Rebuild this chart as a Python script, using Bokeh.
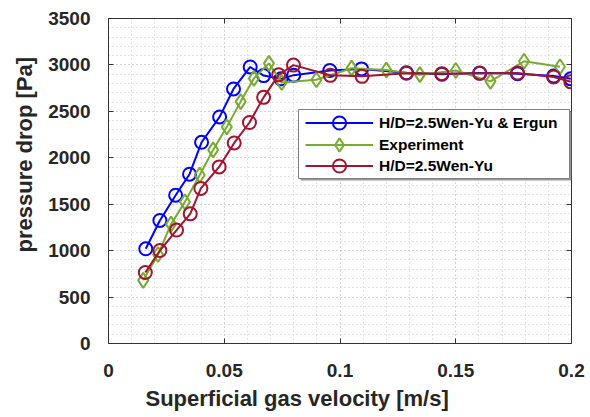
from bokeh.plotting import figure
from bokeh.models import (Range1d, LinearAxis, Legend, LegendItem, Title, Grid,
                          SingleIntervalTicker, BoxAnnotation)
from bokeh.embed import file_html
from bokeh.resources import INLINE

# ---- data ----
blue_x = [0.0161, 0.0222, 0.0290, 0.0350, 0.0402, 0.0480, 0.0540, 0.0612, 0.0670, 0.0745,
          0.0800, 0.0956, 0.1093, 0.1287, 0.1440, 0.1603, 0.1767, 0.1923, 0.1997]
blue_y = [1020, 1325, 1597, 1823, 2167, 2440, 2741, 2978, 2885, 2850,
          2890, 2940, 2957, 2915, 2900, 2912, 2905, 2880, 2850]

green_x = [0.0150, 0.0214, 0.0270, 0.0330, 0.0394, 0.0452, 0.0511, 0.0571, 0.0628, 0.0693,
           0.0748, 0.0898, 0.1050, 0.1200, 0.1345, 0.1500, 0.1650, 0.1795, 0.1950]
green_y = [680, 958, 1285, 1525, 1815, 2085, 2333, 2605, 2855, 3017,
           2812, 2840, 2965, 2945, 2895, 2940, 2823, 3039, 2980]

red_x = [0.0159, 0.0222, 0.0294, 0.0353, 0.0399, 0.0478, 0.0543, 0.0609, 0.0670, 0.0735,
         0.0799, 0.0958, 0.1095, 0.1287, 0.1440, 0.1604, 0.1767, 0.1923, 0.1997]
red_y = [765, 1001, 1222, 1396, 1670, 1902, 2160, 2380, 2651, 2893,
         2998, 2888, 2877, 2911, 2906, 2911, 2913, 2870, 2818]

labels = ["H/D=2.5Wen-Yu & Ergun", "Experiment", "H/D=2.5Wen-Yu"]
x_title = "Superficial gas velocity [m/s]"
y_title = "pressure drop [Pa]"

FONT = "Liberation Sans"
TXT = "#262626"
C_BLUE, C_GREEN, C_RED = "#0000FF", "#77AC30", "#A2142F"

p = figure(frame_width=463, frame_height=325,
           min_border_left=107, min_border_right=19, min_border_top=18, min_border_bottom=70,
           x_range=Range1d(0, 0.2), y_range=Range1d(0, 3500),
           output_backend="svg", toolbar_location=None,
           x_axis_type=None, y_axis_type=None)
p.background_fill_color = "white"
p.border_fill_color = "white"
p.outline_line_color = "#333333"
p.outline_line_width = 1

xt = SingleIntervalTicker(interval=0.05, num_minor_ticks=5)
yt = SingleIntervalTicker(interval=500, num_minor_ticks=5)

def style_axis(ax, show_labels, standoff):
    ax.axis_line_color = "#333333"
    ax.major_tick_line_color = "#333333"
    ax.major_tick_in = 5
    ax.major_tick_out = 0
    ax.minor_tick_line_color = None
    ax.major_label_text_font = FONT
    ax.major_label_text_font_style = "bold"
    if show_labels:
        ax.major_label_text_font_size = "19px"
        ax.major_label_text_color = TXT
        ax.major_label_standoff = standoff
    else:
        ax.major_label_text_font_size = "0px"
        ax.major_label_text_color = None
        ax.major_label_standoff = 0

xb = LinearAxis(ticker=xt)
style_axis(xb, True, 16)
xb.major_label_overrides = {0: "0", 0.05: "0.05", 0.1: "0.1", 0.15: "0.15", 0.2: "0.2"}
p.add_layout(xb, "below")
yl = LinearAxis(ticker=yt)
style_axis(yl, True, 14)
p.add_layout(yl, "left")
xa = LinearAxis(ticker=xt)
style_axis(xa, False, 0)
p.add_layout(xa, "above")
yr = LinearAxis(ticker=yt)
style_axis(yr, False, 0)
p.add_layout(yr, "right")

for dim, tk in ((0, xt), (1, yt)):
    g = Grid(dimension=dim, ticker=tk)
    g.grid_line_color = "#c8c8c8"
    g.grid_line_dash = "1 3"
    g.minor_grid_line_color = "#c8c8c8"
    g.minor_grid_line_dash = "1 3"
    p.add_layout(g)

def series(xs, ys, color, marker, size):
    l = p.line(xs, ys, line_color=color, line_width=2)
    s = p.scatter(xs, ys, marker=marker, size=size, line_color=color, line_width=2,
                  fill_color=None)
    return [l, s]

rb = series(blue_x, blue_y, C_BLUE, "circle", 13)
rg = series(green_x, green_y, C_GREEN, "diamond", 15)
rr = series(red_x, red_y, C_RED, "circle", 13)

# legend frame (with a small shadow), frame-relative screen units
shadow = BoxAnnotation(left=192, right=463, bottom=163, top=232,
                       left_units="screen", right_units="screen",
                       bottom_units="screen", top_units="screen",
                       fill_color="#9a9a9a", fill_alpha=1, line_color=None)
box = BoxAnnotation(left=190, right=461, bottom=165, top=234,
                    left_units="screen", right_units="screen",
                    bottom_units="screen", top_units="screen",
                    fill_color="white", fill_alpha=1,
                    line_color="#7f7f7f", line_width=1, line_alpha=1)
p.add_layout(shadow)
p.add_layout(box)

# one single-item legend per row so that rows can sit closer than the glyph box
for lab, rends, vy in zip(labels, (rb, rg, rr), (204, 182, 161)):
    lg = Legend(items=[LegendItem(label=lab, renderers=rends)], location=(197, vy))
    lg.label_text_font = FONT
    lg.label_text_font_style = "bold"
    lg.label_text_font_size = "15.5px"
    lg.label_text_color = "black"
    lg.glyph_width = 68
    lg.glyph_height = 33
    lg.label_height = 33
    lg.spacing = 0
    lg.padding = 0
    lg.margin = 0
    lg.label_standoff = 6
    lg.border_line_color = None
    lg.background_fill_alpha = 0
    p.add_layout(lg, "center")

xtl = Title(text=x_title, align="left", offset=37, vertical_align="top", standoff=12,
            text_font=FONT, text_font_style="bold", text_font_size="22px",
            text_color=TXT)
p.add_layout(xtl, "below")
ytl = Title(text=y_title, align="left", offset=91, vertical_align="bottom", standoff=18,
            text_font=FONT, text_font_style="bold", text_font_size="22px",
            text_color=TXT)
p.add_layout(ytl, "left")

open("out.html", "w").write(file_html(p, INLINE))
